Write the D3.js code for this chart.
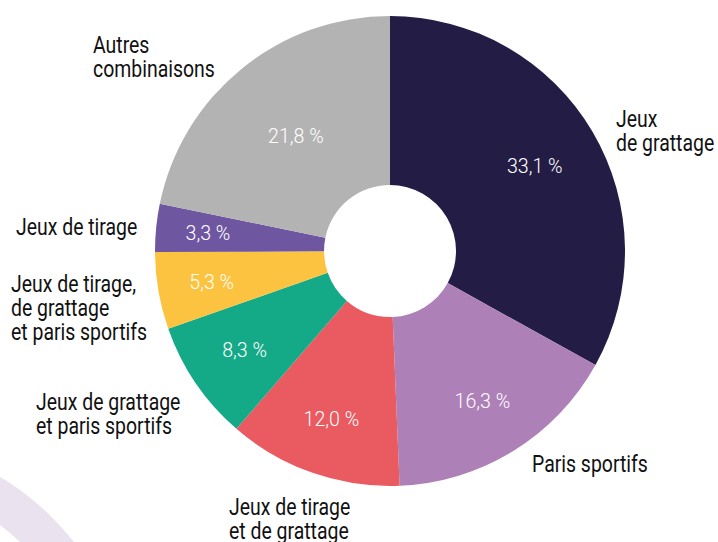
<!DOCTYPE html>
<html>
<head>
<meta charset="utf-8">
<script src="https://cdn.jsdelivr.net/npm/d3@7"></script>
<style>
	body { margin: 0; background: #fff; }
	svg { display: block; }
	.label { font-family: Roboto, "Noto Sans", sans-serif; font-size: 23px; fill: #111; }
	.value { font-family: Roboto, "Noto Sans", sans-serif; font-size: 20px; font-weight: 300; fill: #fff; }
</style>
</head>
<body>
<div id="chart"></div>
<script>
/* jshint esversion: 6 */

///////////////////////////////////////////////////////////////////////////////
//// Data /////////////////////////////////////////////////////////////////////
///////////////////////////////////////////////////////////////////////////////
const categories = [
	"Jeux de grattage",
	"Paris sportifs",
	"Jeux de tirage et de grattage",
	"Jeux de grattage et paris sportifs",
	"Jeux de tirage, de grattage et paris sportifs",
	"Jeux de tirage",
	"Autres combinaisons"
];
const shares = [33.1, 16.3, 12.0, 8.3, 5.3, 3.3, 21.8];
const valueLabels = ["33,1 %", "16,3 %", "12,0 %", "8,3 %", "5,3 %", "3,3 %", "21,8 %"];
// Category names broken into lines as printed
const labelLines = [
	["Jeux", "de grattage"],
	["Paris sportifs"],
	["Jeux de tirage", "et de grattage"],
	["Jeux de grattage", "et paris sportifs"],
	["Jeux de tirage,", "de grattage", "et paris sportifs"],
	["Jeux de tirage"],
	["Autres", "combinaisons"]
];

///////////////////////////////////////////////////////////////////////////////
//// Initial Set Up ///////////////////////////////////////////////////////////
///////////////////////////////////////////////////////////////////////////////
const width = 718;
const height = 542;
const cx = 390, cy = 251;
const outerRadius = 235;
const innerRadius = 66;
const lineHeight = 24;
const labelStretch = 0.845; // no condensed font installed, squeeze horizontally
const valueStretch = 0.98;

const color = d3.scaleOrdinal()
		.domain(categories)
		.range(["#231d45", "#ad80b7", "#e95a61", "#14a987", "#fcc341", "#6e57a0", "#b3b3b3"]);

// Radius at which each percentage sits inside its slice
const valueRadius = [168, 176, 178, 176, 181, 183, 149];
// Top-left anchor (first baseline) of each outside category label
const labelPos = [[616, 127], [532, 472], [229, 515], [36, 410], [11, 292], [16, 235], [93, 53]];

const svg = d3.select("#chart").append("svg")
		.attr("width", width)
		.attr("height", height);

///////////////////////////////////////////////////////////////////////////////
// Decorative ring in the lower-left corner
svg.append("path")
		.attr("transform", "translate(-140, 710)")
		.attr("d", d3.arc()({innerRadius: 232, outerRadius: 272, startAngle: 0, endAngle: 2 * Math.PI}))
		.style("fill", "#ebe2f0");

///////////////////////////////////////////////////////////////////////////////
//// Donut ////////////////////////////////////////////////////////////////////
///////////////////////////////////////////////////////////////////////////////
const pie = d3.pie()
		.sort(null)
		.value(i => shares[i]);

const arcs = pie(d3.range(categories.length));

const arc = d3.arc()
		.innerRadius(innerRadius)
		.outerRadius(outerRadius);

const g = svg.append("g")
		.attr("transform", `translate(${cx}, ${cy})`);

g.selectAll(".slice")
	.data(arcs)
	.enter().append("path")
		.attr("class", "slice")
		.attr("d", arc)
		.style("fill", d => color(categories[d.data]));

// Percentages inside the slices
g.selectAll(".value")
	.data(arcs)
	.enter().append("text")
		.attr("class", "value")
		.attr("transform", d => {
			const a = (d.startAngle + d.endAngle) / 2;
			const r = valueRadius[d.data];
			return `translate(${r * Math.sin(a)}, ${-r * Math.cos(a)}) scale(${valueStretch}, 1)`;
		})
		.attr("dy", "0.35em")
		.style("text-anchor", "middle")
		.text(d => valueLabels[d.data]);

///////////////////////////////////////////////////////////////////////////////
// Category labels outside the donut
const label = svg.selectAll(".label")
	.data(arcs)
	.enter().append("text")
		.attr("class", "label")
		.attr("transform", d => `translate(${labelPos[d.data][0]}, ${labelPos[d.data][1]}) scale(${labelStretch}, 1)`);

label.selectAll("tspan")
	.data(d => labelLines[d.data])
	.enter().append("tspan")
		.attr("x", 0)
		.attr("dy", (d, i) => i === 0 ? 0 : lineHeight)
		.text(d => d);
</script>
</body>
</html>
